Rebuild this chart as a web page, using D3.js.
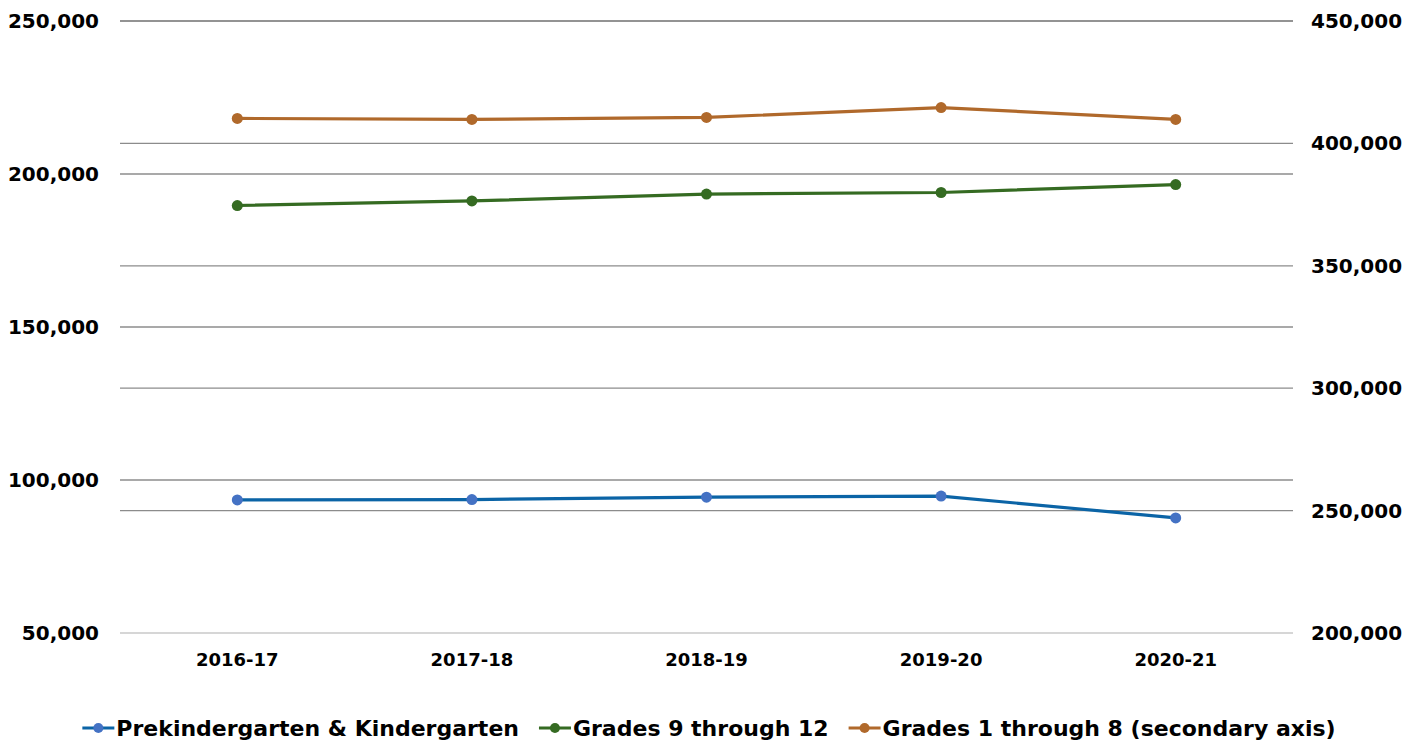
<!DOCTYPE html>
<html><head><meta charset="utf-8">
<script src="https://cdn.jsdelivr.net/npm/d3@7"></script>
<style>body{margin:0;background:#fff}svg{display:block}text{font-family:"DejaVu Sans",sans-serif;font-weight:bold;fill:#000}</style>
</head><body><svg id="c" width="1419" height="742"></svg>
<script>
const categories = ["2016-17","2017-18","2018-19","2019-20","2020-21"];
const preK = [93500, 93600, 94400, 94750, 87600];
const grades9to12 = [189700, 191200, 193450, 193950, 196550];
const grades1to8 = [410200, 409800, 410600, 414650, 409800];
const leftTicks = [50000,100000,150000,200000,250000];
const rightTicks = [200000,250000,300000,350000,400000,450000];
const seriesNames = ["Prekindergarten & Kindergarten","Grades 9 through 12","Grades 1 through 8 (secondary axis)"];

const svg = d3.select("#c");
const L = 120, R = 1293, T = 21, B = 633;
const x = d3.scaleBand().domain(categories).range([L, R]);
const yL = d3.scaleLinear().domain([50000,250000]).range([B,T]);
const yR = d3.scaleLinear().domain([200000,450000]).range([B,T]);
const fmt = d3.format(",");

// gridlines
const grid = svg.append("g");
leftTicks.forEach(v=>grid.append("line").attr("x1",L).attr("x2",R).attr("y1",yL(v)).attr("y2",yL(v))
  .attr("stroke", v===50000?"#c8c8c8":"#8c8c8c").attr("stroke-width",1.3));
rightTicks.forEach(v=>{ if(v===200000) return; grid.append("line").attr("x1",L).attr("x2",R).attr("y1",yR(v)).attr("y2",yR(v))
  .attr("stroke","#8c8c8c").attr("stroke-width",1.3);});

// axes
const axL = svg.append("g").attr("transform",`translate(${L},0)`)
  .call(d3.axisLeft(yL).tickValues(leftTicks).tickFormat(fmt).tickSize(0).tickPadding(21));
const axR = svg.append("g").attr("transform",`translate(${R},0)`)
  .call(d3.axisRight(yR).tickValues(rightTicks).tickFormat(fmt).tickSize(0).tickPadding(18));
const axB = svg.append("g").attr("transform",`translate(0,${B})`)
  .call(d3.axisBottom(x).tickSize(0).tickPadding(20));
[axL,axR,axB].forEach(a=>{a.select(".domain").remove(); a.selectAll("text").style("font-family","'DejaVu Sans',sans-serif").style("font-weight","bold").attr("fill","#000");});
axL.selectAll("text").style("font-size","20px");
axR.selectAll("text").style("font-size","20px");
axB.selectAll("text").style("font-size","18px");

const cx = d => x(d) + x.bandwidth()/2;
const series = [
  {vals: preK, y: yL, line:"#0b64a6", dot:"#4472c4"},
  {vals: grades9to12, y: yL, line:"#356b22", dot:"#356b22"},
  {vals: grades1to8, y: yR, line:"#b0692b", dot:"#b0692b"}
];
series.forEach(s=>{
  const pts = categories.map((c,i)=>[cx(c), s.y(s.vals[i])]);
  svg.append("path").attr("d", d3.line()(pts)).attr("fill","none").attr("stroke",s.line).attr("stroke-width",3.2);
  svg.selectAll(null).data(pts).enter().append("circle").attr("cx",d=>d[0]).attr("cy",d=>d[1]).attr("r",5.5).attr("fill",s.dot);
});

// legend
const lg = svg.append("g");
let items = [];
seriesNames.forEach((n,i)=>{
  const g = lg.append("g");
  g.append("line").attr("x1",0).attr("x2",32).attr("y1",0).attr("y2",0).attr("stroke",series[i].line).attr("stroke-width",3.2);
  g.append("circle").attr("cx",16).attr("cy",0).attr("r",5).attr("fill",series[i].dot);
  const t = g.append("text").attr("x",34).attr("y",8).style("font-size","22px").text(n);
  const w = 34 + t.node().getComputedTextLength();
  items.push({g,w});
});
const gap = 20;
const total = d3.sum(items,d=>d.w) + gap*(items.length-1);
let sx = (81+1337)/2 - total/2;
items.forEach(it=>{ it.g.attr("transform",`translate(${sx},728)`); sx += it.w + gap; });
</script></body></html>
